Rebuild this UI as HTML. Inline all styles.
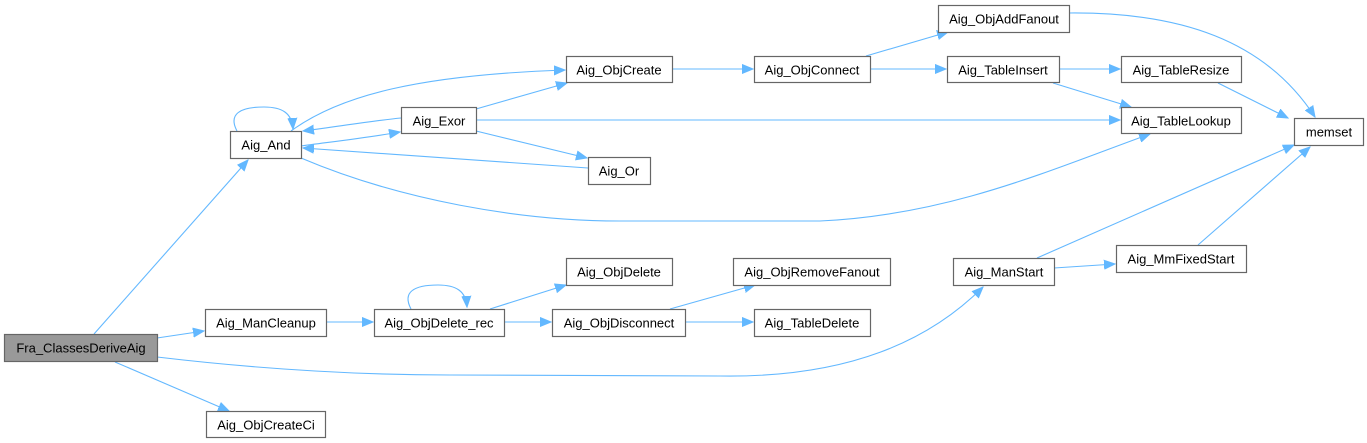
<!DOCTYPE html>
<html><head><meta charset="utf-8"><style>
html,body{margin:0;padding:0;background:#fff;}
svg{display:block;}
text{font-family:"Liberation Sans",Arial,sans-serif;font-size:13px;fill:#000;}
.n{fill:#fff;stroke:#666;stroke-width:1.2;}
.e{fill:none;stroke:#63b8ff;stroke-width:1.1;}
</style></head><body>
<svg width="1367" height="443" viewBox="0 0 1367 443" xmlns="http://www.w3.org/2000/svg">
<defs>
<marker id="a" markerUnits="userSpaceOnUse" markerWidth="12" markerHeight="10" refX="11" refY="5" orient="auto">
<path d="M0,0.5 L11,5 L0,9.5 Z" fill="#63b8ff" stroke="#63b8ff"/>
</marker>
</defs>
<g marker-end="url(#a)">
<path class="e" d="M94,334 L248,160"/>
<path class="e" d="M157,338 L204,331"/>
<path class="e" d="M157,357 C250,368 350,375 450,375 L720,376 C850,378 930,340 983,287"/>
<path class="e" d="M115,362 L229,411"/>
<path class="e" d="M237,131 C228,114 240,107 264,107 C282,107 292,113 293,129"/>
<path class="e" d="M291,131 C340,95 420,75 565,70"/>
<path class="e" d="M301,146 C330,142 365,138 400,132"/>
<path class="e" d="M401,118 C370,121 335,127 303,131"/>
<path class="e" d="M588,168 L303,148"/>
<path class="e" d="M301,158 C400,200 520,221 620,221 L820,221 C950,215 1050,170 1150,134"/>
<path class="e" d="M476,109 L567,83"/>
<path class="e" d="M476,120 L1120,120"/>
<path class="e" d="M476,131 L587,158"/>
<path class="e" d="M672,69 L753,69"/>
<path class="e" d="M866,56 L948,32"/>
<path class="e" d="M870,69 L946,69"/>
<path class="e" d="M1059,69 L1120,69"/>
<path class="e" d="M1053,83 L1131,107"/>
<path class="e" d="M1218,83 L1288,118"/>
<path class="e" d="M1069,13 C1180,12 1265,40 1315,117"/>
<path class="e" d="M1037,258 L1294,145"/>
<path class="e" d="M1054,268 L1115,264"/>
<path class="e" d="M1198,245 L1310,147"/>
<path class="e" d="M326,322 L373,322"/>
<path class="e" d="M411,309 C402,292 414,285 438,285 C456,285 466,291 467,307"/>
<path class="e" d="M490,309 L566,285"/>
<path class="e" d="M504,322 L551,322"/>
<path class="e" d="M670,309 L755,285"/>
<path class="e" d="M685,322 L753,322"/>
</g>
<g>
<rect x="4.5" y="334.5" width="153" height="27" fill="#999" stroke="#666" stroke-width="1.2"/>
<text x="81" y="352.5" text-anchor="middle">Fra_ClassesDeriveAig</text>
<rect class="n" x="230.5" y="131.5" width="71" height="27"/><text x="266" y="149.5" text-anchor="middle">Aig_And</text>
<rect class="n" x="401.5" y="107.5" width="75" height="26"/><text x="439" y="125.5" text-anchor="middle">Aig_Exor</text>
<rect class="n" x="566.5" y="56.5" width="106" height="26"/><text x="619" y="74.5" text-anchor="middle">Aig_ObjCreate</text>
<rect class="n" x="588.5" y="157.5" width="62" height="27"/><text x="619" y="175.5" text-anchor="middle">Aig_Or</text>
<rect class="n" x="566.5" y="258.5" width="106" height="27"/><text x="619" y="276.5" text-anchor="middle">Aig_ObjDelete</text>
<rect class="n" x="205.5" y="309.5" width="121" height="27"/><text x="266" y="327.5" text-anchor="middle">Aig_ManCleanup</text>
<rect class="n" x="374.5" y="309.5" width="130" height="27"/><text x="439" y="327.5" text-anchor="middle">Aig_ObjDelete_rec</text>
<rect class="n" x="552.5" y="309.5" width="133" height="27"/><text x="619" y="327.5" text-anchor="middle">Aig_ObjDisconnect</text>
<rect class="n" x="206.5" y="411.5" width="119" height="26"/><text x="266" y="429.5" text-anchor="middle">Aig_ObjCreateCi</text>
<rect class="n" x="938.5" y="5.5" width="131" height="27"/><text x="1004" y="23.5" text-anchor="middle">Aig_ObjAddFanout</text>
<rect class="n" x="754.5" y="56.5" width="116" height="26"/><text x="812" y="74.5" text-anchor="middle">Aig_ObjConnect</text>
<rect class="n" x="947.5" y="56.5" width="112" height="26"/><text x="1003" y="74.5" text-anchor="middle">Aig_TableInsert</text>
<rect class="n" x="1121.5" y="56.5" width="120" height="26"/><text x="1181" y="74.5" text-anchor="middle">Aig_TableResize</text>
<rect class="n" x="1121.5" y="107.5" width="120" height="26"/><text x="1181" y="125.5" text-anchor="middle">Aig_TableLookup</text>
<rect class="n" x="1294.5" y="118.5" width="69" height="27"/><text x="1329" y="136.5" text-anchor="middle">memset</text>
<rect class="n" x="733.5" y="258.5" width="157" height="27"/><text x="812" y="276.5" text-anchor="middle">Aig_ObjRemoveFanout</text>
<rect class="n" x="754.5" y="309.5" width="116" height="27"/><text x="812" y="327.5" text-anchor="middle">Aig_TableDelete</text>
<rect class="n" x="953.5" y="258.5" width="101" height="27"/><text x="1004" y="276.5" text-anchor="middle">Aig_ManStart</text>
<rect class="n" x="1116.5" y="245.5" width="130" height="27"/><text x="1181" y="263.5" text-anchor="middle">Aig_MmFixedStart</text>
</g>
</svg>
</body></html>
